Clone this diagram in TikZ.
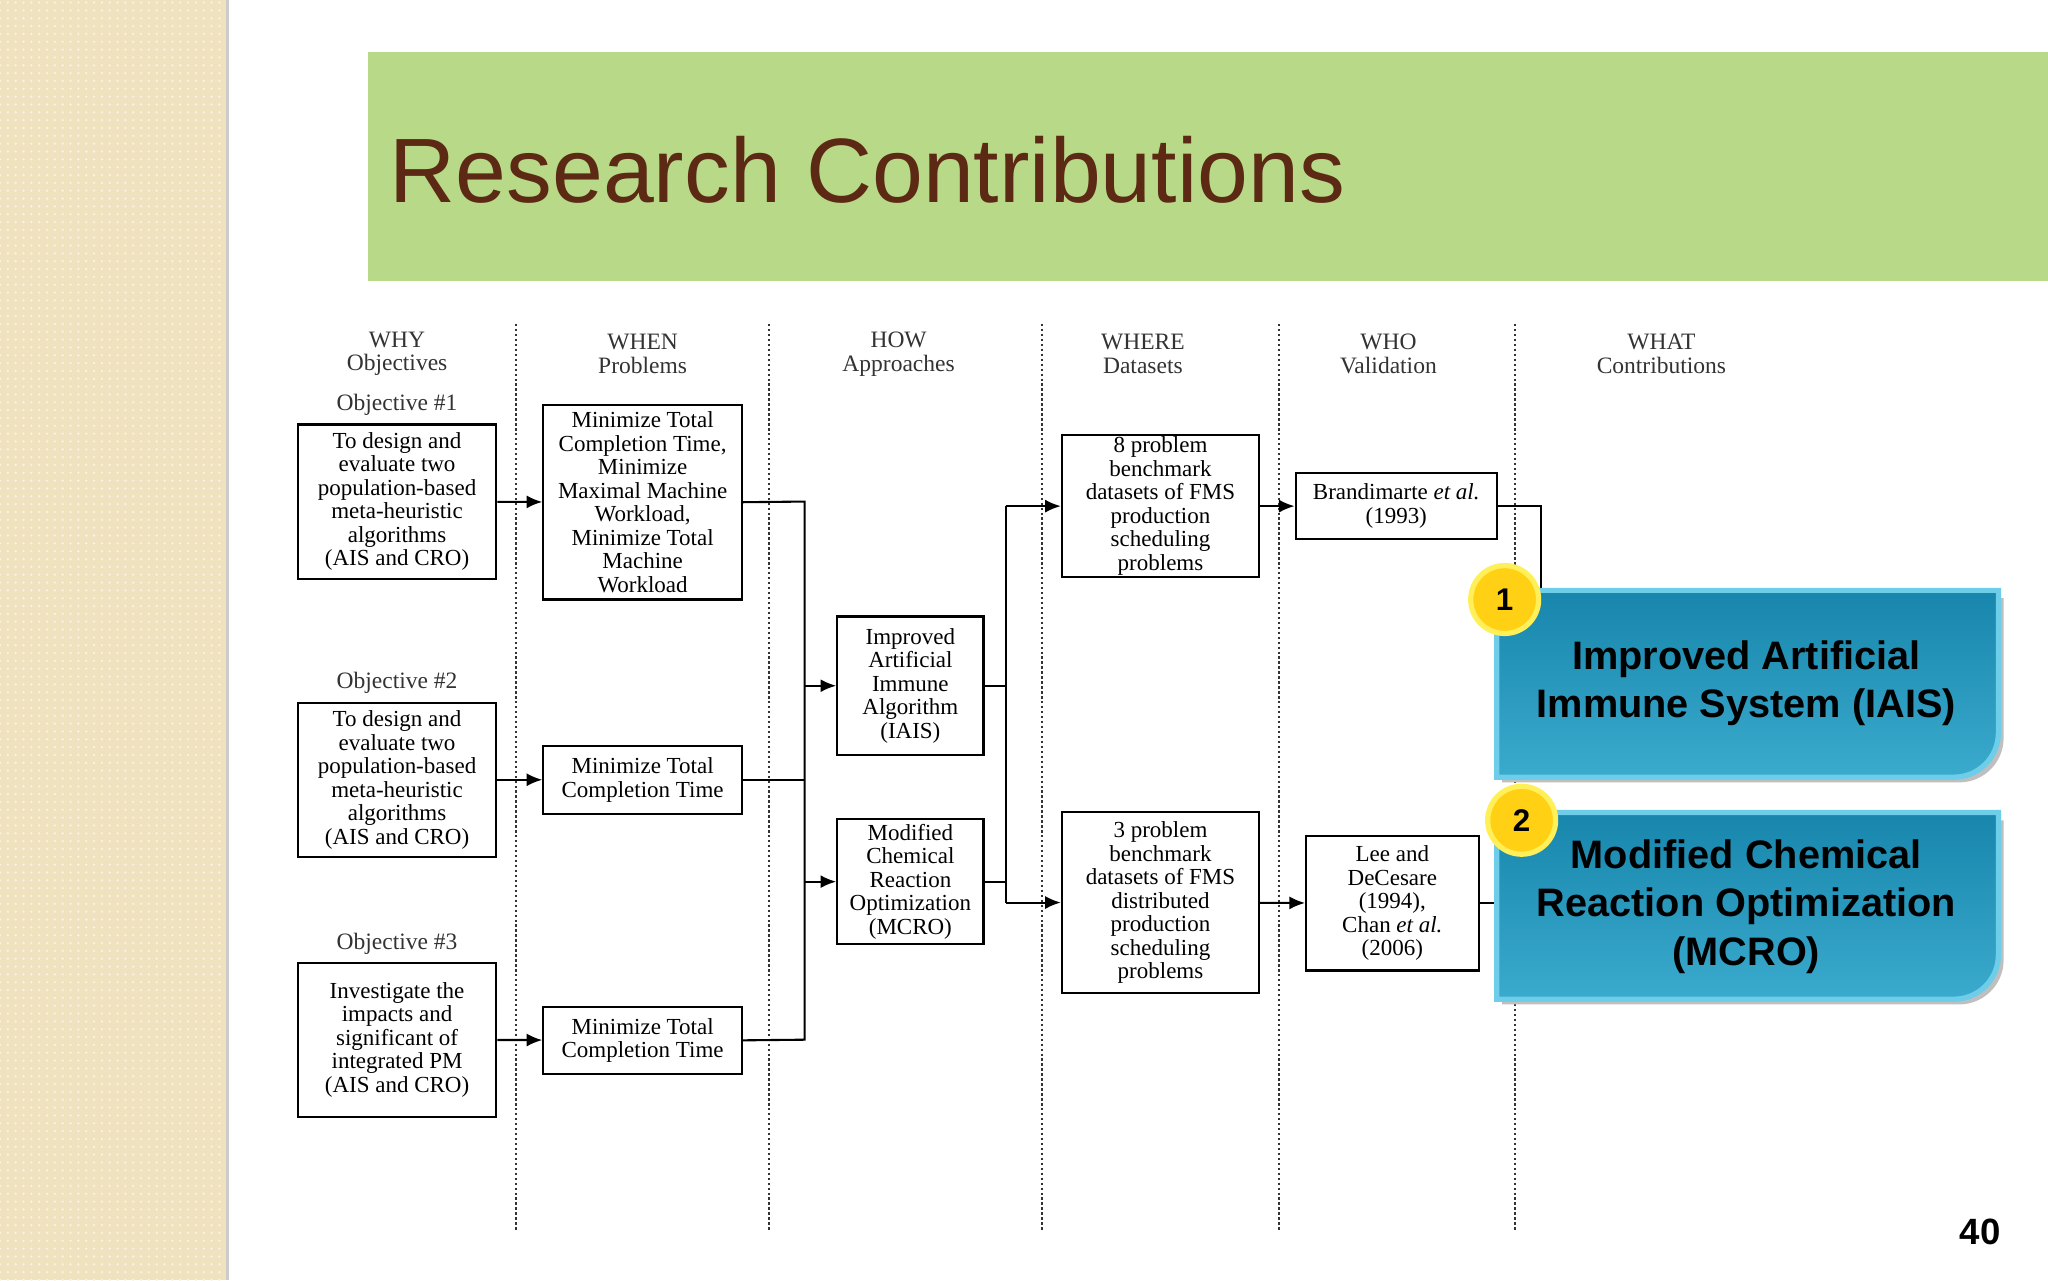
\documentclass[tikz,border=0pt]{standalone}
\usepackage{fontspec}
\setmainfont{Liberation Serif}
\newfontfamily\hd{Liberation Sans}
\usetikzlibrary{arrows.meta,patterns}
\definecolor{beige}{RGB}{240,226,190}
\definecolor{band}{RGB}{184,217,135}
\definecolor{ttl}{RGB}{92,42,20}
\definecolor{tealA}{RGB}{24,134,172}
\definecolor{tealB}{RGB}{58,170,205}
\definecolor{tealE}{RGB}{110,205,232}
\definecolor{ylw}{RGB}{255,208,20}
\definecolor{ylwE}{RGB}{255,240,90}
\tikzset{
  box/.style={draw,line width=0.8pt,align=center,inner sep=0pt,font=\fontsize{8.8}{9}\selectfont},
  hdr/.style={align=center,font=\fontsize{9}{9}\selectfont,text=black!80},
  lbl/.style={font=\fontsize{9}{9}\selectfont,text=black!80},
  sep/.style={densely dotted,line width=0.9pt,black!80},
  con/.style={line width=0.8pt},
  arr/.style={line width=0.8pt,-{Latex[length=6pt,width=5pt]}},
  num/.style={circle,draw=ylwE,line width=2pt,fill=ylw,minimum size=26pt,inner sep=0pt,font=\hd\bfseries\fontsize{12}{12}\selectfont},
  contrib/.style={align=center,text=black,font=\hd\bfseries\fontsize{15.2}{18.5}\selectfont}
}
\begin{document}
\begin{tikzpicture}[x=0.5pt,y=-0.5pt]
\useasboundingbox (0,0) rectangle (1568,980);
\fill[white] (0,0) rectangle (1568,980);
\fill[beige] (0,0) rectangle (173,980);
\fill[pattern=dots,pattern color=white!60!beige] (0,0) rectangle (173,980);
\draw[black!20,line width=1pt] (174,0) -- (174,980);
\fill[band] (282,40) rectangle (1568,215);
\node[anchor=base west,text=ttl,font=\hd\fontsize{35}{37}\selectfont,inner sep=0pt] (title) at (298,155) {Research Contributions};
% separators
\foreach \x in {395,589,798,979,1160} \draw[sep] (\x,248) -- (\x,942);
% headers
\node[hdr] (h1) at (304,271) {WHY\\Objectives};
\node[hdr] (h2) at (492,271) {WHEN\\Problems};
\node[hdr] (h3) at (688,271) {HOW\\Approaches};
\node[hdr] (h4) at (875,271) {WHERE\\Datasets};
\node[hdr] (h5) at (1063,271) {WHO\\Validation};
\node[hdr] (h6) at (1272,271) {WHAT\\Contributions};
\node[lbl] (o1) at (304,310) {Objective \#1};
\node[lbl] (o2) at (304,523) {Objective \#2};
\node[lbl] (o3) at (304,723) {Objective \#3};
% boxes
\node[box,minimum width=76pt,minimum height=59pt] (A1) at (304,384) {To design and\\evaluate two\\population-based\\meta-heuristic\\algorithms\\(AIS and CRO)};
\node[box,minimum width=76pt,minimum height=59pt] (A2) at (304,597) {To design and\\evaluate two\\population-based\\meta-heuristic\\algorithms\\(AIS and CRO)};
\node[box,minimum width=76pt,minimum height=59pt] (A3) at (304,796) {Investigate the\\impacts and\\significant of\\integrated PM\\(AIS and CRO)};
\node[box,minimum width=76pt,minimum height=74.5pt] (B1) at (492,384.5) {Minimize Total\\Completion Time,\\Minimize\\Maximal Machine\\Workload,\\Minimize Total\\Machine\\Workload};
\node[box,minimum width=76pt,minimum height=26pt] (B2) at (492,597) {Minimize Total\\Completion Time};
\node[box,minimum width=76pt,minimum height=25.5pt] (B3) at (492,796.5) {Minimize Total\\Completion Time};
\node[box,minimum width=56pt,minimum height=53pt] (C1) at (697,525) {Improved\\Artificial\\Immune\\Algorithm\\(IAIS)};
\node[box,minimum width=56pt,minimum height=48pt] (C2) at (697,675) {Modified\\Chemical\\Reaction\\Optimization\\(MCRO)};
\node[box,minimum width=75.5pt,minimum height=54.5pt] (D1) at (888.5,387.5) {8 problem\\benchmark\\datasets of FMS\\production\\scheduling\\problems};
\node[box,minimum width=75.5pt,minimum height=69pt] (D2) at (888.5,691) {3 problem\\benchmark\\datasets of FMS\\distributed\\production\\scheduling\\problems};
\node[box,minimum width=77pt,minimum height=25.5pt] (E1) at (1069,387.5) {Brandimarte \textit{et al.}\\(1993)};
\node[box,minimum width=66pt,minimum height=51.5pt] (E2) at (1066,691.5) {Lee and\\DeCesare\\(1994),\\Chan \textit{et al.}\\(2006)};
% arrows
\draw[arr] (A1) -- (B1);
\draw[arr] (A2) -- (B2);
\draw[arr] (A3) -- (B3);
\coordinate (p1) at (616,384);
\coordinate (p3) at (616,796);
\draw[con] (B1.east) -- (p1) -- (p3) -- (B3.east);
\draw[con] (B2.east) -- (616,597);
\coordinate (q1) at (616,525);
\coordinate (q2) at (616,675);
\draw[arr] (q1) -- (C1.west);
\draw[arr] (q2) -- (C2.west);
\coordinate (r1) at (770,387.5);
\coordinate (r2) at (770,691);
\draw[con] (C1.east) -- (770,525);
\draw[con] (C2.east) -- (770,675);
\draw[con] (r1) -- (r2);
\draw[arr] (r1) -- (D1.west);
\draw[arr] (r2) -- (D2.west);
\draw[arr] (D1) -- (E1);
\draw[arr] (D2) -- (E2);
\coordinate (s1) at (1180,387.5);
\coordinate (s2) at (1180,470);
\draw[con] (E1.east) -- (s1) -- (s2);
\coordinate (s3) at (1150,691.5);
\draw[con] (E2.east) -- (s3);
% contribution boxes
\foreach \y in {452,622}{
  \fill[black!25] (1150,\y+6) -- (1534,\y+6) -- (1534,\y+113) arc[start angle=0,end angle=90,radius=34] -- (1150,\y+147) -- cycle;
  \shade[top color=tealA,bottom color=tealB,draw=tealE,line width=2pt] (1146,\y) -- (1530,\y) -- (1530,\y+109) arc[start angle=0,end angle=90,radius=34] -- (1146,\y+143) -- cycle;
}
\node[contrib] (F1) at (1337,523) {Improved Artificial\\Immune System (IAIS)};
\node[contrib] (F2) at (1337,694) {Modified Chemical\\Reaction Optimization\\(MCRO)};
\node[num] (n1) at (1152,459) {1};
\node[num] (n2) at (1165,628) {2};
\node[font=\hd\bfseries\fontsize{14}{14}\selectfont] (pg) at (1516,943) {40};
\end{tikzpicture}
\end{document}
